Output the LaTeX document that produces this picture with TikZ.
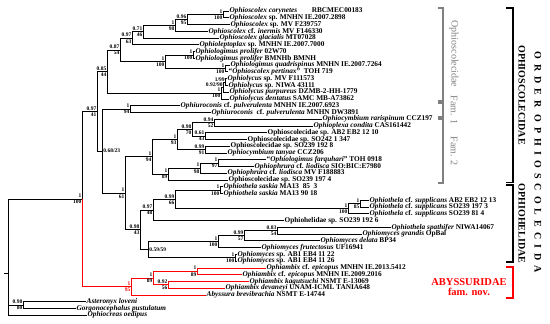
\documentclass[tikz,border=0pt]{standalone}
\usepackage{fontspec}
\setmainfont{Liberation Serif}
\usetikzlibrary{positioning}

% support values: posterior probability above, bootstrap below
\newcommand{\supl}[3]{\node[supp, left=0.3pt of #1] (s#1) {#2\\#3};}

\begin{document}
\begin{tikzpicture}[
    x=1pt, y=-1pt,
    br/.style={line width=0.8pt},
    tip/.style={anchor=west, inner sep=0.5pt, font=\fontsize{7.3}{8}\selectfont\bfseries},
    supp/.style={align=right, inner sep=0.2pt, font=\fontsize{5.5}{6.2}\selectfont\bfseries},
    brk/.style={line width=1.7pt},
    gbrk/.style={line width=1.3pt, gray},
    glab/.style={rotate=-90, text=gray, font=\fontsize{10}{12}\selectfont},
    blab/.style={rotate=-90, font=\fontsize{10}{12}\selectfont\bfseries}
]
    \useasboundingbox (0,0) rectangle (550,324);

    % Tips
    \node[tip] (cory) at (229,11.0) {\textit{Ophioscolex corynetes}\quad\quad RBCMEC00183};
    \node[tip] (s2898) at (229,17.8) {\textit{Ophioscolex} sp. MNHN IE.2007.2898};
    \node[tip] (f239757) at (230,24.5) {\textit{Ophioscolex} sp. MV F239757};
    \node[tip] (inermis) at (208,31.3) {\textit{Ophioscolex} cf. \textit{inermis} MV F146330};
    \node[tip] (glacialis) at (219,38.0) {\textit{Ophioscolex glacialis} MT07028};
    \node[tip] (lepto) at (199,44.8) {\textit{Ophioleptoplax} sp. MNHN IE.2007.7000};
    \node[tip] (prol1) at (195,51.6) {\textit{Ophiologimus prolifer} 02W70};
    \node[tip] (prol2) at (195,58.3) {\textit{Ophiologimus prolifer} BMNHb BMNH};
    \node[tip] (quadri) at (230,65.1) {\textit{Ophiologimus quadrispinus} MNHN IE.2007.7264};
    \node[tip] (pertinax) at (228,71.8) {“\textit{Ophioscolex pertinax}”\ \ TOH 719};
    \node[tip] (lycA) at (227,78.6) {\textit{Ophiolycus} sp. MV F111573};
    \node[tip] (lycB) at (228,85.4) {\textit{Ophiolycus} sp. NIWA 43111};
    \node[tip] (purpureus) at (229,92.1) {\textit{Ophiolycus purpureus} DZMB-2-HH-1779};
    \node[tip] (dentatus) at (229,98.9) {\textit{Ophiolycus dentatus} SAMC MB-A73862};
    \node[tip] (uroA) at (180,105.6) {\textit{Ophiuroconis} cf. \textit{pulverulenta} MNHN IE.2007.6923};
    \node[tip] (uroB) at (211,112.4) {\textit{Ophiuroconis}\ \ cf. \textit{pulverulenta} MNHN DW3891};
    \node[tip] (rarisp) at (322,119.2) {\textit{Ophiocymbium rarispinum} CCZ197};
    \node[tip] (condita) at (313,125.9) {\textit{Ophioplexa condita} CAS161442};
    \node[tip] (sAB2) at (267,132.7) {Ophioscolecidae sp. AB2 EB2 12 10};
    \node[tip] (sSO242) at (247,139.4) {Ophioscolecidae sp. SO242 1 347};
    \node[tip] (sSO1928) at (230,146.2) {Ophioscolecidae sp. SO239 192 8};
    \node[tip] (tanyae) at (227,153.0) {\textit{Ophiocymbium tanyae} CCZ206};
    \node[tip] (farq) at (266,159.7) {“\textit{Ophiologimus farquhari}” TOH 0918};
    \node[tip] (liodA) at (254,166.5) {\textit{Ophiophrura} cf. \textit{liodisca} SIO:BIC:E7980};
    \node[tip] (liodB) at (227,173.2) {\textit{Ophiophrura} cf. \textit{liodisca} MV F188883};
    \node[tip] (sSO1974) at (228,180.0) {Ophioscolecidae sp. SO239 197 4};
    \node[tip] (saskA) at (223,186.8) {\textit{Ophiothela saskia} MA13\ \ 85\ \ 3};
    \node[tip] (saskB) at (223,193.5) {\textit{Ophiothela saskia} MA13 90 18};
    \node[tip] (suppA) at (369,200.3) {\textit{Ophiothela} cf. \textit{supplicans} AB2 EB2 12 13};
    \node[tip] (suppB) at (369,207.0) {\textit{Ophiothela} cf. \textit{supplicans} SO239 197 3};
    \node[tip] (suppC) at (369,213.8) {\textit{Ophiothela} cf. \textit{supplicans} SO239 81 4};
    \node[tip] (helSO) at (284,220.6) {Ophiohelidae sp. SO239 192 6};
    \node[tip] (spath) at (391,227.3) {\textit{Ophiothela spathifer} NIWA14067};
    \node[tip] (grandis) at (362,234.1) {\textit{Ophiomyces grandis} OpBal};
    \node[tip] (delata) at (320,240.8) {\textit{Ophiomyces delata} BP34};
    \node[tip] (frutect) at (261,247.6) {\textit{Ophiomyces frutectosus} UF16941};
    \node[tip] (mycA) at (237,254.4) {\textit{Ophiomyces} sp. AB1 EB4 11 22};
    \node[tip] (mycB) at (237,261.1) {\textit{Ophiomyces} sp. AB1 EB4 11 26};
    \node[tip] (epicA) at (266,267.9) {\textit{Ophiambix} cf. \textit{epicopus} MNHN IE.2013.5412};
    \node[tip] (epicB) at (242,274.6) {\textit{Ophiambix} cf. \textit{epicopus} MNHN IE.2009.2016};
    \node[tip] (kagu) at (249,281.4) {\textit{Ophiambix kagutsuchi} NSMT E-13069};
    \node[tip] (devan) at (225,288.2) {\textit{Ophiambix devaneyi} UNAM-ICML TANIA648};
    \node[tip] (brevi) at (206,294.9) {\textit{Abyssura brevibrachia} NSMT E-14744};
    \node[tip] (loveni) at (86,301.7) {\textit{Asteronyx loveni}};
    \node[tip] (gorgo) at (76,308.4) {\textit{Gorgonocephalus pustulatum}};
    \node[tip] (oedipus) at (87,315.2) {\textit{Ophiocreas oedipus}};

    % Internal nodes
    \coordinate (cor) at (223,14.4);
    \coordinate (scx) at (187,19.45);
    \coordinate (ine) at (175,25.4);
    \coordinate (gla) at (143,31.7);
    \coordinate (lep) at (132,38.25);
    \coordinate (pro) at (193,54.95);
    \coordinate (qua) at (225,68.45);
    \coordinate (lgm) at (165,61.7);
    \coordinate (sco) at (120,49.98);
    \coordinate (ly1) at (225,82.0);
    \coordinate (ly2) at (223,87.05);
    \coordinate (lyc) at (221,93.0);
    \coordinate (fam0) at (107,71.5);
    \coordinate (uro) at (130,109.0);
    \coordinate (cym) at (214,122.55);
    \coordinate (ab2) at (205,136.05);
    \coordinate (plx) at (192,129.3);
    \coordinate (tan) at (205,149.6);
    \coordinate (fm2a) at (177,139.45);
    \coordinate (frq) at (218,163.1);
    \coordinate (phr) at (200,168.15);
    \coordinate (fm2b) at (168,174.1);
    \coordinate (fam2) at (152,156.8);
    \coordinate (sas) at (220,190.15);
    \coordinate (sup1) at (360,203.65);
    \coordinate (sup) at (348,208.7);
    \coordinate (the) at (175,199.4);
    \coordinate (hel) at (153,210.0);
    \coordinate (grd) at (277,230.7);
    \coordinate (del) at (244,235.75);
    \coordinate (fru) at (218,241.7);
    \coordinate (ab1) at (235,257.75);
    \coordinate (myc) at (148,249.7);
    \coordinate (ohe) at (140,229.85);
    \coordinate (ohc) at (125,193.3);
    \coordinate (fm12) at (102,151.15);
    \coordinate (osc) at (97,111.3);
    \coordinate (epi) at (197,271.25);
    \coordinate (dev) at (168,284.8);
    \coordinate (amb) at (153,278.0);
    \coordinate (aby) at (131,286.45);
    \coordinate (ing) at (82,198.9);
    \coordinate (out) at (23,305.05);
    \coordinate (root) at (8,273.0);
    \coordinate (rootTick) at (4,273.0);

    % Branches
    \draw[br] (cor) |- (cory.west) (cor) |- (s2898.west);
    \draw[br] (scx) |- (cor) (scx) |- (f239757.west);
    \draw[br] (ine) |- (scx) (ine) |- (inermis.west);
    \draw[br] (gla) |- (ine) (gla) |- (glacialis.west);
    \draw[br] (lep) |- (gla) (lep) |- (lepto.west);
    \draw[br] (pro) |- (prol1.west) (pro) |- (prol2.west);
    \draw[br] (qua) |- (quadri.west) (qua) |- (pertinax.west);
    \draw[br] (lgm) |- (pro) (lgm) |- (qua);
    \draw[br] (sco) |- (lep) (sco) |- (lgm);
    \draw[br] (ly1) |- (lycA.west) (ly1) |- (lycB.west);
    \draw[br] (ly2) |- (ly1) (ly2) |- (purpureus.west);
    \draw[br] (lyc) |- (ly2) (lyc) |- (dentatus.west);
    \draw[br] (fam0) |- (sco) (fam0) |- (lyc);
    \draw[br] (uro) |- (uroA.west) (uro) |- (uroB.west);
    \draw[br] (cym) |- (rarisp.west) (cym) |- (condita.west);
    \draw[br] (ab2) |- (sAB2.west) (ab2) |- (sSO242.west);
    \draw[br] (plx) |- (cym) (plx) |- (ab2);
    \draw[br] (tan) |- (sSO1928.west) (tan) |- (tanyae.west);
    \draw[br] (fm2a) |- (plx) (fm2a) |- (tan);
    \draw[br] (frq) |- (farq.west) (frq) |- (liodA.west);
    \draw[br] (phr) |- (frq) (phr) |- (liodB.west);
    \draw[br] (fm2b) |- (phr) (fm2b) |- (sSO1974.west);
    \draw[br] (fam2) |- (fm2a) (fam2) |- (fm2b);
    \draw[br] (sas) |- (saskA.west) (sas) |- (saskB.west);
    \draw[br] (sup1) |- (suppA.west) (sup1) |- (suppB.west);
    \draw[br] (sup) |- (sup1) (sup) |- (suppC.west);
    \draw[br] (the) |- (sas) (the) |- (sup);
    \draw[br] (hel) |- (the) (hel) |- (helSO.west);
    \draw[br] (grd) |- (spath.west) (grd) |- (grandis.west);
    \draw[br] (del) |- (grd) (del) |- (delata.west);
    \draw[br] (fru) |- (del) (fru) |- (frutect.west);
    \draw[br] (ab1) |- (mycA.west) (ab1) |- (mycB.west);
    \draw[br] (myc) |- (fru) (myc) |- (ab1);
    \draw[br] (ohe) |- (hel) (ohe) |- (myc);
    \draw[br] (ohc) |- (fam2) (ohc) |- (ohe);
    \draw[br] (fm12) |- (uro) (fm12) |- (ohc);
    \draw[br] (osc) |- (fam0) (osc) |- (fm12);
    \draw[br] (ing) |- (osc);
    \draw[br, red] (ing) |- (aby);
    \draw[br, red] (aby) |- (amb) (aby) |- (brevi.west);
    \draw[br, red] (amb) |- (epi) (amb) |- (dev);
    \draw[br, red] (epi) |- (epicA.west) (epi) |- (epicB.west);
    \draw[br, red] (dev) |- (kagu.west) (dev) |- (devan.west);
    \draw[br] (out) |- (loveni.west) (out) |- (gorgo.west);
    \draw[br] (root) |- (ing) (root) |- (out) (root) |- (oedipus.west);
    \draw[br] (root) -- (rootTick);

    % Support values
    \supl{cor}{1}{100}
    \supl{scx}{0.96}{95}
    \supl{ine}{1}{98}
    \supl{gla}{0.71}{46}
    \supl{lep}{0.97}{63}
    \supl{pro}{1}{100}
    \supl{qua}{1}{100}
    \supl{lgm}{1}{100}
    \supl{sco}{0.87}{54}
    \supl{lyc}{1}{100}
    \supl{fam0}{0.85}{44}
    \supl{uro}{1}{94}
    \supl{cym}{0.94}{52}
    \supl{ab2}{0.61}{43}
    \supl{plx}{0.98}{70}
    \supl{tan}{0.99}{91}
    \supl{fm2a}{1}{93}
    \supl{frq}{1}{97}
    \supl{phr}{1}{98}
    \supl{fm2b}{1}{89}
    \supl{fam2}{1}{94}
    \supl{sas}{1}{100}
    \supl{sup1}{1}{85}
    \supl{sup}{1}{100}
    \supl{the}{0.99}{66}
    \supl{hel}{0.97}{48}
    \supl{grd}{0.83}{54}
    \supl{del}{0.99}{57}
    \supl{fru}{1}{100}
    \supl{ab1}{1}{100}
    \supl{ohe}{0.98}{43}
    \supl{ohc}{1}{61}
    \supl{osc}{0.97}{41}
    \supl{epi}{1}{89}
    \supl{dev}{0.92}{56}
    \supl{amb}{1}{89}
    \supl{ing}{1}{100}
    \supl{out}{0.98}{80}
    \node[supp, left=0.3pt of aby, text=red] (saby) {1\\95};
    \node[supp, anchor=south east] (sly1) at (ly1) {1/99};
    \node[supp, anchor=south east] (sly2) at (ly2) {0.92/90};
    \node[supp, anchor=west, xshift=1pt] (sfm12) at (fm12) {0.68/23};
    \node[supp, anchor=west, xshift=1pt] (smyc) at (myc) {0.59/59};

    % Family brackets
    \draw[gbrk] (438,8) -| (443,101) -- (438,101);
    \draw[gbrk] (438,103) -| (443,117) -- (438,117);
    \draw[gbrk] (438,119) -| (443,183) -- (438,183);
    \node[glab] (lfam0) at (454,54) {Ophioscolecidae};
    \node[glab] (lfam1) at (454,110) {Fam. 1};
    \node[glab] (lfam2) at (454,151) {Fam. 2};

    \draw[brk] (506,8) -| (513,182.5) -- (506,182.5);
    \draw[brk] (506,185) -| (513,262) -- (506,262);
    \draw[brk, red] (506,267) -| (513,298) -- (506,298);
    \node[blab] (lophc) at (522,95) {OPHIOSCOLECIDAE};
    \node[blab] (lophh) at (522,223.5) {OPHIOHELIDAE};
    \node[text=red, align=center, font=\fontsize{10.5}{10.5}\selectfont\bfseries] (laby) at (469,287) {ABYSSURIDAE\\fam. nov.};
    \node[rotate=-90, font=\fontsize{10}{12}\selectfont\bfseries\addfontfeatures{LetterSpace=50}] (lorder) at (538,162) {ORDER OPHIOSCOLECIDA};
\end{tikzpicture}
\end{document}
